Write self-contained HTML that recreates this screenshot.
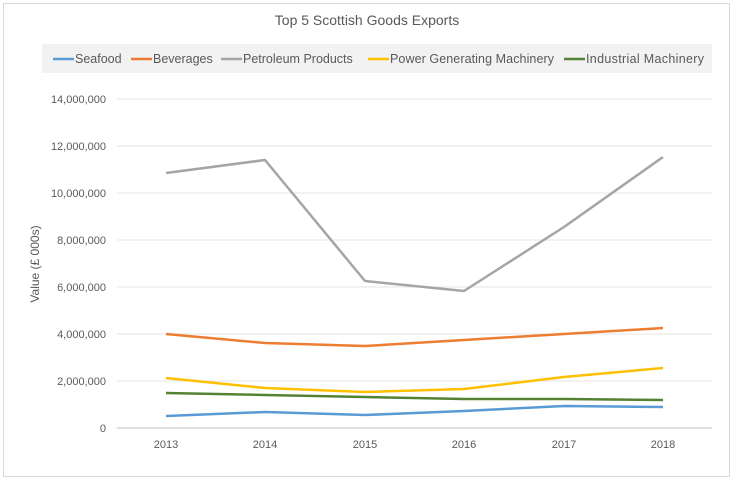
<!DOCTYPE html>
<html><head><style>
body{margin:0;background:#fff;}
svg text{font-family:"Liberation Sans",sans-serif;}
</style></head><body>
<svg width="734" height="481" xmlns="http://www.w3.org/2000/svg">
<rect x="3.5" y="3.5" width="726" height="473" fill="#fff" stroke="#d9d9d9"/>
<text x="367" y="25" text-anchor="middle" font-size="14" fill="#595959">Top 5 Scottish Goods Exports</text>
<rect x="42" y="44" width="670" height="29" fill="#f2f2f2"/>
<g font-size="12.5" fill="#595959">
<line x1="53" y1="59" x2="74" y2="59" stroke="#5b9bd5" stroke-width="2.5"/><text x="75" y="63">Seafood</text>
<line x1="131" y1="59" x2="152" y2="59" stroke="#ed7d31" stroke-width="2.5"/><text x="153" y="63">Beverages</text>
<line x1="221" y1="59" x2="242" y2="59" stroke="#a5a5a5" stroke-width="2.5"/><text x="243" y="63">Petroleum Products</text>
<line x1="368" y1="59" x2="389" y2="59" stroke="#ffc000" stroke-width="2.5"/><text x="390" y="63" textLength="164">Power Generating Machinery</text>
<line x1="564" y1="59" x2="585" y2="59" stroke="#548235" stroke-width="2.5"/><text x="586" y="63" textLength="118">Industrial Machinery</text>
</g>
<g stroke="#e6e6e6" stroke-width="1">
<line x1="117" y1="99" x2="712" y2="99"/><line x1="117" y1="146" x2="712" y2="146"/>
<line x1="117" y1="193" x2="712" y2="193"/><line x1="117" y1="240" x2="712" y2="240"/>
<line x1="117" y1="287" x2="712" y2="287"/><line x1="117" y1="334" x2="712" y2="334"/>
<line x1="117" y1="381" x2="712" y2="381"/>
</g>
<line x1="117" y1="428" x2="712" y2="428" stroke="#bfbfbf"/>
<g font-size="11" fill="#595959" text-anchor="end">
<text x="106" y="103">14,000,000</text><text x="106" y="150">12,000,000</text>
<text x="106" y="197">10,000,000</text><text x="106" y="244">8,000,000</text>
<text x="106" y="291">6,000,000</text><text x="106" y="338">4,000,000</text>
<text x="106" y="385">2,000,000</text><text x="106" y="432">0</text>
</g>
<g font-size="11" fill="#595959" text-anchor="middle">
<text x="166" y="448">2013</text><text x="265" y="448">2014</text><text x="365" y="448">2015</text>
<text x="464" y="448">2016</text><text x="564" y="448">2017</text><text x="663" y="448">2018</text>
</g>
<text transform="translate(39,264) rotate(-90)" font-size="12" fill="#595959" text-anchor="middle">Value (£ 000s)</text>
<g fill="none" stroke-width="2.5" stroke-linejoin="round">
<polyline stroke="#5b9bd5" points="166,416 265,412 365,415 464,411 564,406 663,407"/>
<polyline stroke="#548235" points="166,393 265,395 365,397 464,399 564,399 663,400"/>
<polyline stroke="#ffc000" points="166,378 265,388 365,392 464,389 564,377 663,368"/>
<polyline stroke="#ed7d31" points="166,334 265,343 365,346 464,340 564,334 663,328"/>
<polyline stroke="#a5a5a5" points="166,173 265,160 365,281 464,291 564,227 663,157"/>
</g>
</svg>
</body></html>
